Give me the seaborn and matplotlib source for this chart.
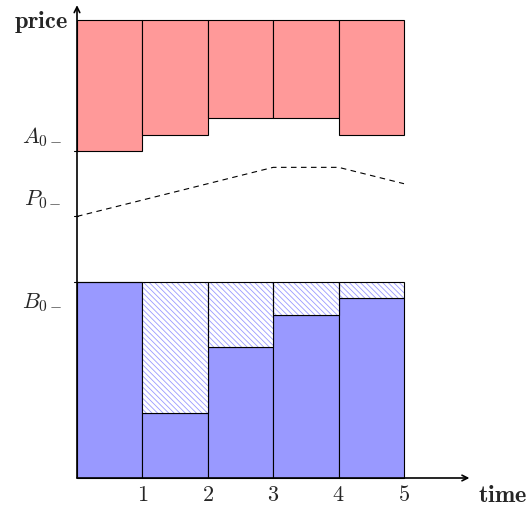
import matplotlib
matplotlib.use("Agg")
import matplotlib.pyplot as plt
import seaborn as sns
import numpy as np
import pandas as pd

# data
times = [1, 2, 3, 4, 5]
ask_top = [7.0, 7.0, 7.0, 7.0, 7.0]
ask_bottom = [5.0, 5.25, 5.5, 5.5, 5.25]
bid_level = [3.0, 3.0, 3.0, 3.0, 3.0]
bid_height = [3.0, 1.0, 2.0, 2.5, 2.75]
price_t = [0, 1, 2, 3, 4, 5]
price_mid = [4.0, 4.25, 4.5, 4.75, 4.75, 4.5]
ytick_vals = [5.0, 4.0, 3.0]
ytick_labels = [r"$A_{0-}$", r"$P_{0-}$", r"$B_{0-}$"]

sns.set_style("white")
plt.rcParams["mathtext.fontset"] = "cm"
plt.rcParams["hatch.linewidth"] = 0.6

fig = plt.figure(figsize=(5.3, 5.08), dpi=100)
ax = fig.add_axes([0, 0, 1, 1])

centers = [t - 0.5 for t in times]
red = "#ff9999"
blue = "#9999ff"

df_ask = pd.DataFrame({"t": centers, "h": np.array(ask_top) - np.array(ask_bottom)})
sns.barplot(data=df_ask, x="t", y="h", native_scale=True, width=1, color=red,
            saturation=1, edgecolor="black", linewidth=0.8, bottom=ask_bottom, ax=ax)

df_bid = pd.DataFrame({"t": centers, "h": bid_height})
sns.barplot(data=df_bid, x="t", y="h", native_scale=True, width=1, color=blue,
            saturation=1, edgecolor="black", linewidth=0.8, ax=ax)

gap = np.array(bid_level) - np.array(bid_height)
df_gap = pd.DataFrame({"t": centers, "h": gap})
sns.barplot(data=df_gap, x="t", y="h", native_scale=True, width=1, color="white",
            saturation=1, edgecolor=blue, linewidth=0, hatch="\\" * 6,
            bottom=bid_height, ax=ax)
sns.barplot(data=df_gap, x="t", y="h", native_scale=True, width=1, color="black",
            fill=False, linewidth=0.8, bottom=bid_height, ax=ax)

sns.lineplot(x=price_t, y=price_mid, color="black", linewidth=0.8,
             linestyle=(0, (5, 4)), ax=ax)

# axes arrows
ax.annotate("", xy=(6.0, 0), xytext=(0, 0),
            arrowprops=dict(arrowstyle="->", color="black", lw=1.2, shrinkA=0, shrinkB=0))
ax.annotate("", xy=(0, 7.23), xytext=(0, 0),
            arrowprops=dict(arrowstyle="->", color="black", lw=1.2, shrinkA=0, shrinkB=0))

for v in ytick_vals:
    ax.plot([-0.04, 0.02], [v, v], color="black", lw=0.8)

label_y = [5.21, 4.25, 2.68]
for y, lab in zip(label_y, ytick_labels):
    ax.text(-0.23, y, lab, ha="right", va="center", fontsize=16)

for t in times:
    ax.text(t, -0.26, r"$%d$" % t, ha="center", va="center", fontsize=16)

ax.text(-0.14, 6.97, r"$\mathbf{price}$", ha="right", va="center", fontsize=17.5)
ax.text(6.13, -0.26, r"$\mathbf{time}$", ha="left", va="center", fontsize=17.5)

ax.set_xlim(-77 / 65.4, (530 - 77) / 65.4)
ax.set_ylim(-(508 - 478) / 65.4, 478 / 65.4)
ax.set_axis_off()
ax.set_xlabel("")
ax.set_ylabel("")

fig.savefig("out.png", dpi=100)
